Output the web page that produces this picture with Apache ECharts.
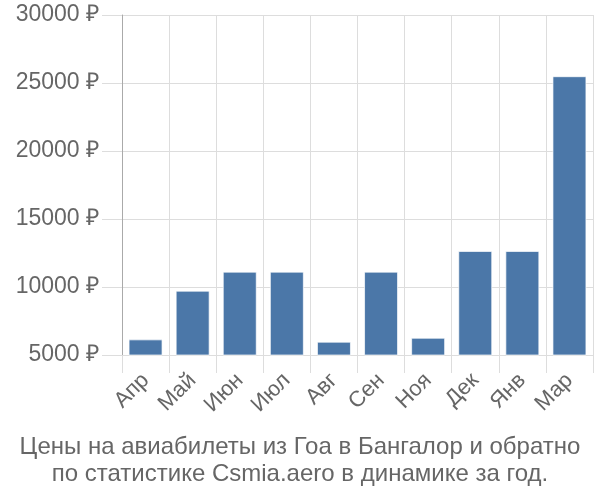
<!DOCTYPE html>
<html><head><meta charset="utf-8">
<script src="https://cdn.jsdelivr.net/npm/echarts@6/dist/echarts.min.js"></script>
<style>html,body{margin:0;padding:0;background:#fff}#c{width:600px;height:500px}</style>
</head><body><div id="c"></div>
<script>
var categories = ['Апр','Май','Июн','Июл','Авг','Сен','Ноя','Дек','Янв','Мар'];
var prices = [6150, 9730, 11130, 11130, 5980, 11130, 6270, 12650, 12650, 25500];
var yTicks = [5000, 10000, 15000, 20000, 25000, 30000];
var titleLines = ['Цены на авиабилеты из Гоа в Бангалор и обратно', 'по статистике Csmia.aero в динамике за год.'];

var chart = echarts.init(document.getElementById('c'), null, {renderer:'canvas'});
var font = 'Liberation Sans, Arial, sans-serif';
chart.setOption({
  animation:false,
  textStyle:{fontFamily:font},
  title:{text:titleLines.join('\n'), left:'center', bottom:7,
    textStyle:{fontSize:24, fontWeight:'normal', color:'#666', lineHeight:27, fontFamily:font}},
  grid:{left:122, right:7, top:15, bottom:145, containLabel:false},
  xAxis:{type:'category', data:categories, boundaryGap:true,
    axisLine:{show:false},
    axisTick:{show:true, length:18, lineStyle:{color:'#ddd'}},
    splitLine:{show:true, lineStyle:{color:'#ddd'}},
    axisLabel:{rotate:45, fontSize:22, color:'#666', margin:22, fontFamily:font, interval:0}},
  yAxis:{type:'value', min:yTicks[0], max:yTicks[yTicks.length-1], interval:5000,
    axisLine:{show:true, lineStyle:{color:'#aaa'}},
    axisTick:{show:true, length:20, lineStyle:{color:'#ddd'}},
    splitLine:{show:true, lineStyle:{color:'#ddd'}},
    axisLabel:{formatter:function(v){return v + ' ₽';}, fontSize:23, color:'#666', margin:23, fontFamily:font}},
  series:[{type:'bar', data:prices, barWidth:34,
    itemStyle:{color:'#4b77a8', borderColor:'rgba(255,255,255,0.7)', borderWidth:1}}]
});
</script></body></html>
